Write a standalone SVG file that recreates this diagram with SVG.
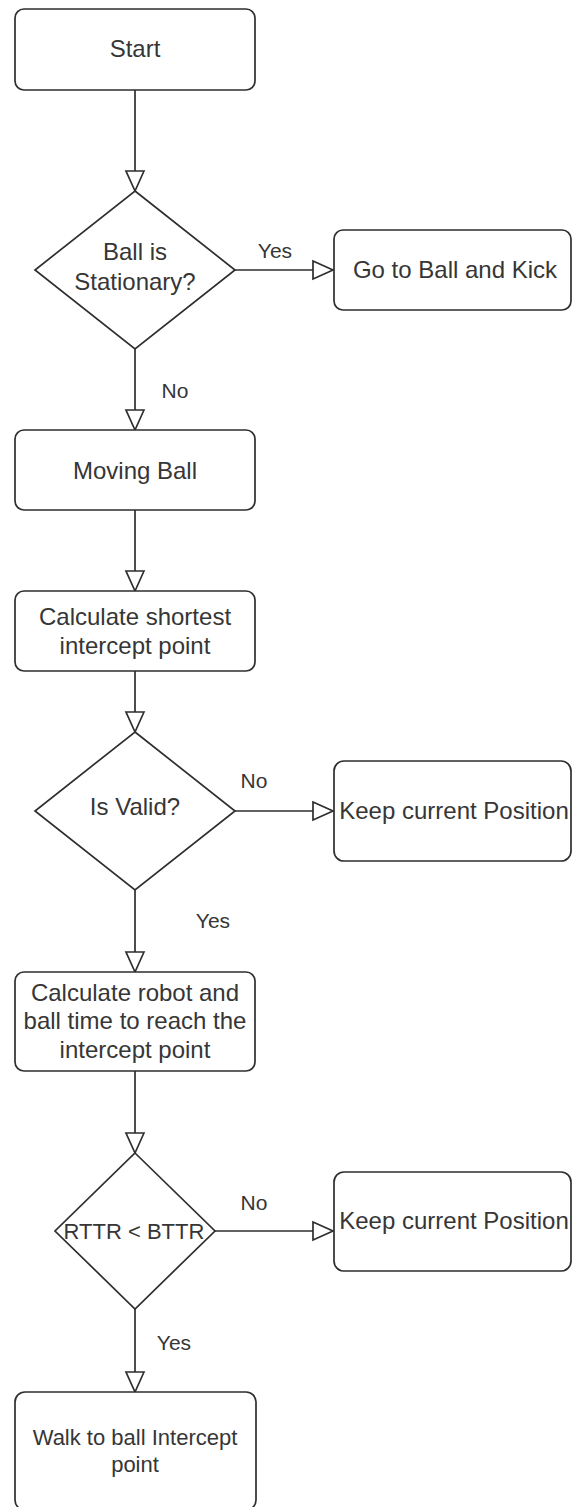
<svg xmlns="http://www.w3.org/2000/svg" width="573" height="1507" viewBox="0 0 573 1507">
<style>
.box{fill:#ffffff;stroke:#2e2e2e;stroke-width:1.7}
.t{font-family:"Liberation Sans",Arial,sans-serif;font-size:24px;fill:#363636;text-anchor:middle}
.s{font-size:22px}
.lbl{font-family:"Liberation Sans",Arial,sans-serif;font-size:21px;fill:#363636;text-anchor:middle}
.edge{fill:none;stroke:#2e2e2e;stroke-width:1.7}
</style>
<defs>
<marker id="arr" markerUnits="userSpaceOnUse" markerWidth="24" markerHeight="22" refX="20" refY="9" orient="auto" overflow="visible">
<path d="M0,0 L20,9 L0,18 Z" fill="#ffffff" stroke="#2e2e2e" stroke-width="1.7" stroke-linejoin="miter"/>
</marker>
</defs>
<rect width="573" height="1507" fill="#ffffff"/>
<g id="connectors">
<line class="edge" x1="135" y1="90" x2="135" y2="191" marker-end="url(#arr)"/>
<line class="edge" x1="235" y1="270" x2="333" y2="270" marker-end="url(#arr)"/>
<line class="edge" x1="135" y1="349" x2="135" y2="430" marker-end="url(#arr)"/>
<line class="edge" x1="135" y1="510" x2="135" y2="591" marker-end="url(#arr)"/>
<line class="edge" x1="135" y1="671" x2="135" y2="732" marker-end="url(#arr)"/>
<line class="edge" x1="235" y1="811" x2="333" y2="811" marker-end="url(#arr)"/>
<line class="edge" x1="135" y1="890" x2="135" y2="972" marker-end="url(#arr)"/>
<line class="edge" x1="135" y1="1071" x2="135" y2="1153" marker-end="url(#arr)"/>
<line class="edge" x1="215" y1="1231" x2="333" y2="1231" marker-end="url(#arr)"/>
<line class="edge" x1="135" y1="1309" x2="135" y2="1392" marker-end="url(#arr)"/>
<text class="lbl" x="275" y="257.5">Yes</text>
<text class="lbl" x="175" y="397.5">No</text>
<text class="lbl" x="254" y="787.5">No</text>
<text class="lbl" x="213" y="927.5">Yes</text>
<text class="lbl" x="254" y="1209.5">No</text>
<text class="lbl" x="174" y="1349.5">Yes</text>
</g>
<g id="start">
<rect class="box" x="15" y="9" width="240" height="81" rx="9"/>
<text class="t" x="135" y="57">Start</text>
</g>
<g id="ball-stationary">
<polygon class="box" points="135,191 235,270 135,349 35,270"/>
<text class="t" x="135" y="260">Ball is</text>
<text class="t" x="135" y="290">Stationary?</text>
</g>
<g id="go-kick">
<rect class="box" x="334" y="230" width="237" height="80" rx="9"/>
<text class="t" x="455" y="277.5">Go to Ball and Kick</text>
</g>
<g id="moving-ball">
<rect class="box" x="15" y="430" width="240" height="80" rx="9"/>
<text class="t" x="135" y="478.5">Moving Ball</text>
</g>
<g id="calc-shortest">
<rect class="box" x="15" y="591" width="240" height="80" rx="9"/>
<text class="t" x="135" y="624.5">Calculate shortest</text>
<text class="t" x="135" y="654">intercept point</text>
</g>
<g id="is-valid">
<polygon class="box" points="135,732 235,811 135,890 35,811"/>
<text class="t" x="135" y="815">Is Valid?</text>
</g>
<g id="keep-1">
<rect class="box" x="334" y="761" width="237" height="100" rx="10"/>
<text class="t" x="454" y="818.5">Keep current Position</text>
</g>
<g id="calc-robot">
<rect class="box" x="15" y="972" width="240" height="99" rx="9"/>
<text class="t" x="135" y="1000.5">Calculate robot and</text>
<text class="t" x="135" y="1029">ball time to reach the</text>
<text class="t" x="135" y="1057.5">intercept point</text>
</g>
<g id="rttr-btr">
<polygon class="box" points="135,1153 215,1231 135,1309 55,1231"/>
<text class="t s" x="134" y="1239">RTTR &lt; BTTR</text>
</g>
<g id="keep-2">
<rect class="box" x="334" y="1172" width="237" height="99" rx="10"/>
<text class="t" x="454" y="1228.5">Keep current Position</text>
</g>
<g id="walk">
<rect class="box" x="15" y="1392" width="241" height="118" rx="10"/>
<text class="t s" x="135" y="1445">Walk to ball Intercept</text>
<text class="t s" x="135" y="1472">point</text>
</g>
</svg>
